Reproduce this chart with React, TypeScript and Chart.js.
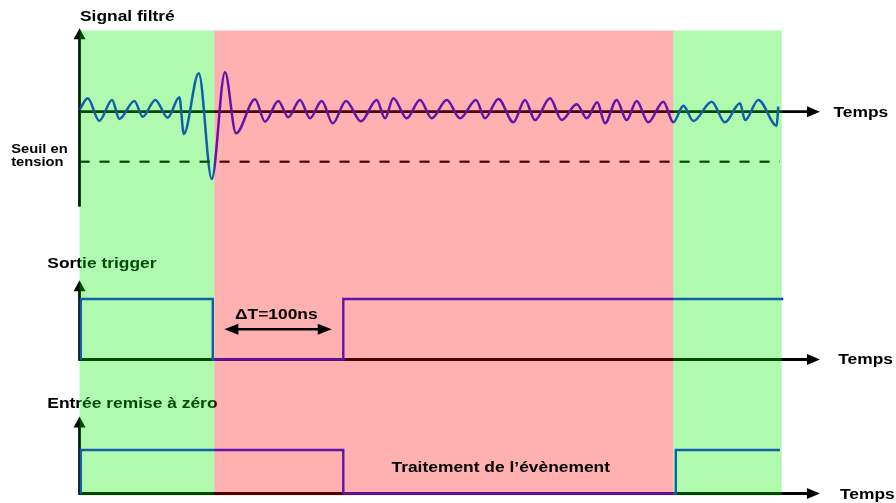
import React, { useEffect, useRef } from "react";
import { Chart, registerables } from "chart.js";

Chart.register(...registerables);

const W = 896;
const H = 503;

// ---- time axis (ns) ----
const T_MIN = -61.2;
const T_MAX = 628.1;
const T_AXIS_END = 569.6;

// ---- filtered signal: extrema (time ns, amplitude) ----
const SIGNAL_T = [
  0, 6.3, 15.2, 25, 30.6, 42.2, 48.6, 58.3, 67.8, 76.8, 80.2, 91.7, 101.7,
  111.9, 120.4, 135, 142.7, 152.9, 160.6, 169.6, 177.3, 186.3, 194.8, 205,
  216.5, 228.6, 235, 241.4, 251.7, 261.9, 270.9, 282.5, 292.7, 305, 311.9,
  322.2, 333.7, 342.7, 350.4, 361.9, 370.9, 382.5, 390.2, 398.3, 404.2, 413.2,
  420.9, 428.6, 437.5, 449.1, 456.8, 464.5, 472.2, 486.3, 496.5, 508.1, 512,
  522.2, 536.3, 537.5,
];
const SIGNAL_V = [
  1, 6.7, -4.6, 5.9, -3.6, 5.4, -2.5, 5.9, -3, 7.2, -11.1, 19.2, -33.6,
  19.7, -10.8, 6.2, -5, 5.4, -2.8, 5.9, -3.3, 5.4, -5.8, 5.4,
  -4.8, 5.9, -3.3, 6.7, -3.3, 5.9, -3.3, 5.9, -3.3, 5.9, -3.3,
  6.4, -5.3, 5.9, -4.2, 6.7, -4.2, 3.7, -3.3, 4.7, -5.8, 5.9,
  -4.2, 5.4, -5.3, 5, -5.3, 3, -4.6, 5, -5.3, 4.2, -4.2,
  5.9, -7, 2.5,
];
const THRESHOLD = -25;
const THRESHOLD_SPAN = [0, 538.8];

// ---- trigger output (logic level) ----
const TRIGGER_T = [1, 1, 102.5, 102.5, 202.9, 202.9, 541.4];
const TRIGGER_V = [0, 1, 1, 0, 0, 1, 1];

// ---- reset input (logic level) ----
const RESET_T = [1, 1, 202.9, 202.9, 458.7, 458.7, 538.8];
const RESET_V = [0, 1, 1, 0, 0, 1, 1];

// ---- phases ----
const PHASE_EDGES = [0, 103.7, 456.8, 540.2];
const PHASE_COLORS = ["rgba(0,240,0,0.31)", "rgba(255,0,0,0.31)", "rgba(0,240,0,0.31)"];

// ---- ΔT arrow ----
const DELTA_SPAN = [111.4, 194.0];
const DELTA_LEVEL = 0.5;

// ---- texts ----
const PANEL_TITLES = ["Signal filtré", "Sortie trigger", "Entrée remise à zéro"];
const AXIS_LABEL = "Temps";
const THRESHOLD_LABEL = ["Seuil en", "tension"];
const DELTA_LABEL = "ΔT=100ns";
const PHASE_LABEL = "Traitement de l’évènement";

// ---- panel layout (pixel of value 0, pixels per unit) ----
const SIG_ZERO_PX = 111.7;
const SIG_UNIT_PX = 2;
const TRIG_ZERO_PX = 359.5;
const TRIG_UNIT_PX = 60.5;
const RST_ZERO_PX = 493.5;
const RST_UNIT_PX = 43.5;

const bounds = (zero: number, unit: number) => ({
  min: -(H - zero) / unit,
  max: zero / unit,
});

const BLUE = "rgb(25,30,245)";
const SX = 1.16;
const FONT = '"Liberation Sans", Arial, sans-serif';

function txt(ctx: CanvasRenderingContext2D, s: string, x: number, y: number, size: number) {
  ctx.save();
  ctx.translate(x, y);
  ctx.scale(SX, 1);
  ctx.font = `bold ${size}px ${FONT}`;
  ctx.fillStyle = "#000";
  ctx.textBaseline = "alphabetic";
  ctx.textAlign = "left";
  ctx.fillText(s, 0, 0);
  ctx.restore();
}

function head(ctx: CanvasRenderingContext2D, x: number, y: number, dir: "up" | "right" | "left", len: number, half: number) {
  ctx.beginPath();
  if (dir === "up") {
    ctx.moveTo(x, y);
    ctx.lineTo(x - half, y + len);
    ctx.lineTo(x + half, y + len);
  } else if (dir === "right") {
    ctx.moveTo(x, y);
    ctx.lineTo(x - len, y - half);
    ctx.lineTo(x - len, y + half);
  } else {
    ctx.moveTo(x, y);
    ctx.lineTo(x + len, y - half);
    ctx.lineTo(x + len, y + half);
  }
  ctx.closePath();
  ctx.fill();
}

const PANELS = [
  { axis: "ySig", top: 41.7, bottom: -47.5 },
  { axis: "yTrig", top: 1.31, bottom: 0 },
  { axis: "yRst", top: 1.77, bottom: 0 },
];

const diagramPlugin = {
  id: "diagram",
  beforeDraw(chart: any) {
    const ctx = chart.ctx;
    ctx.save();
    ctx.fillStyle = "#fff";
    ctx.fillRect(0, 0, chart.width, chart.height);
    ctx.restore();
  },
  beforeDatasetsDraw(chart: any) {
    const ctx: CanvasRenderingContext2D = chart.ctx;
    const xs = chart.scales.x;
    const x0 = xs.getPixelForValue(0);
    const xEnd = xs.getPixelForValue(T_AXIS_END);
    ctx.save();
    ctx.strokeStyle = "#000";
    ctx.fillStyle = "#000";
    ctx.lineWidth = 2.8;
    PANELS.forEach((p) => {
      const ys = chart.scales[p.axis];
      const yTop = ys.getPixelForValue(p.top);
      const yBot = ys.getPixelForValue(p.bottom);
      const yZero = ys.getPixelForValue(0);
      ctx.beginPath();
      ctx.moveTo(x0, yBot + (p.bottom === 0 ? 1.3 : 0));
      ctx.lineTo(x0, yTop + 10);
      ctx.stroke();
      head(ctx, x0, yTop, "up", 11, 6);
      ctx.beginPath();
      ctx.moveTo(x0, yZero);
      ctx.lineTo(xEnd - 11, yZero);
      ctx.stroke();
    });
    // texts under the phase overlay
    txt(ctx, PANEL_TITLES[0], 80, 20.7, 15);
    txt(ctx, PANEL_TITLES[1], 47.3, 268.3, 15);
    txt(ctx, PANEL_TITLES[2], 47.3, 408.3, 15);
    txt(ctx, THRESHOLD_LABEL[0], 11.2, 152.7, 12.7);
    txt(ctx, THRESHOLD_LABEL[1], 11.2, 166.2, 12.7);
    ctx.restore();
  },
  afterDatasetsDraw(chart: any) {
    const ctx: CanvasRenderingContext2D = chart.ctx;
    const xs = chart.scales.x;
    const ySig = chart.scales.ySig;
    const yRst = chart.scales.yRst;
    const yTrig = chart.scales.yTrig;
    const top = ySig.getPixelForValue(40.6);
    const bottom = yRst.getPixelForValue(-0.04);
    ctx.save();
    for (let i = 0; i < PHASE_COLORS.length; i++) {
      const a = xs.getPixelForValue(PHASE_EDGES[i]);
      const b = xs.getPixelForValue(PHASE_EDGES[i + 1]);
      ctx.fillStyle = PHASE_COLORS[i];
      ctx.fillRect(a, top, b - a, bottom - top);
    }
    // horizontal arrow heads + Temps labels
    ctx.fillStyle = "#000";
    const xEnd = xs.getPixelForValue(T_AXIS_END);
    [ySig, yTrig, yRst].forEach((ys, i) => {
      const yz = ys.getPixelForValue(0);
      head(ctx, xEnd, yz, "right", 13, 5.5);
      txt(ctx, AXIS_LABEL, xEnd + [13.5, 18.3, 20][i], yz + [5, 4.8, 5.5][i], 15);
    });
    // ΔT arrow
    const da = xs.getPixelForValue(DELTA_SPAN[0]);
    const db = xs.getPixelForValue(DELTA_SPAN[1]);
    const dy = yTrig.getPixelForValue(DELTA_LEVEL);
    ctx.strokeStyle = "#000";
    ctx.lineWidth = 2.6;
    ctx.beginPath();
    ctx.moveTo(da + 10, dy);
    ctx.lineTo(db - 10, dy);
    ctx.stroke();
    head(ctx, da, dy, "left", 14, 5.5);
    head(ctx, db, dy, "right", 14, 5.5);
    txt(ctx, DELTA_LABEL, 235, 319.3, 15);
    txt(ctx, PHASE_LABEL, 391.5, 471.7, 15);
    ctx.restore();
  },
};

export default function App() {
  const ref = useRef<HTMLCanvasElement | null>(null);
  useEffect(() => {
    if (!ref.current) return;
    const pts = (t: number[], v: number[]) => t.map((x, i) => ({ x, y: v[i] }));
    const chart = new Chart(ref.current, {
      type: "line",
      data: {
        datasets: [
          {
            data: pts(THRESHOLD_SPAN, [THRESHOLD, THRESHOLD]),
            xAxisID: "x",
            yAxisID: "ySig",
            borderColor: "#000",
            borderWidth: 2.2,
            borderDash: [10, 10],
            pointRadius: 0,
            tension: 0,
          },
          {
            data: pts(SIGNAL_T, SIGNAL_V),
            xAxisID: "x",
            yAxisID: "ySig",
            borderColor: BLUE,
            borderWidth: 2.5,
            pointRadius: 0,
            cubicInterpolationMode: "monotone",
          },
          {
            data: pts(TRIGGER_T, TRIGGER_V),
            xAxisID: "x",
            yAxisID: "yTrig",
            borderColor: BLUE,
            borderWidth: 2.4,
            pointRadius: 0,
            tension: 0,
          },
          {
            data: pts(RESET_T, RESET_V),
            xAxisID: "x",
            yAxisID: "yRst",
            borderColor: BLUE,
            borderWidth: 2.4,
            pointRadius: 0,
            tension: 0,
          },
        ] as any,
      },
      options: {
        animation: false,
        responsive: false,
        events: [],
        layout: { padding: 0 },
        plugins: { legend: { display: false }, tooltip: { enabled: false } },
        scales: {
          x: { type: "linear", min: T_MIN, max: T_MAX, display: false },
          ySig: { type: "linear", ...bounds(SIG_ZERO_PX, SIG_UNIT_PX), display: false },
          yTrig: { type: "linear", ...bounds(TRIG_ZERO_PX, TRIG_UNIT_PX), display: false },
          yRst: { type: "linear", ...bounds(RST_ZERO_PX, RST_UNIT_PX), display: false },
        },
      } as any,
      plugins: [diagramPlugin],
    });
    return () => chart.destroy();
  }, []);
  return (
    <div style={{ position: "fixed", left: 0, top: 0, width: W, height: H, background: "#fff" }}>
      <canvas ref={ref} width={W} height={H} style={{ display: "block", width: W, height: H }} />
    </div>
  );
}
